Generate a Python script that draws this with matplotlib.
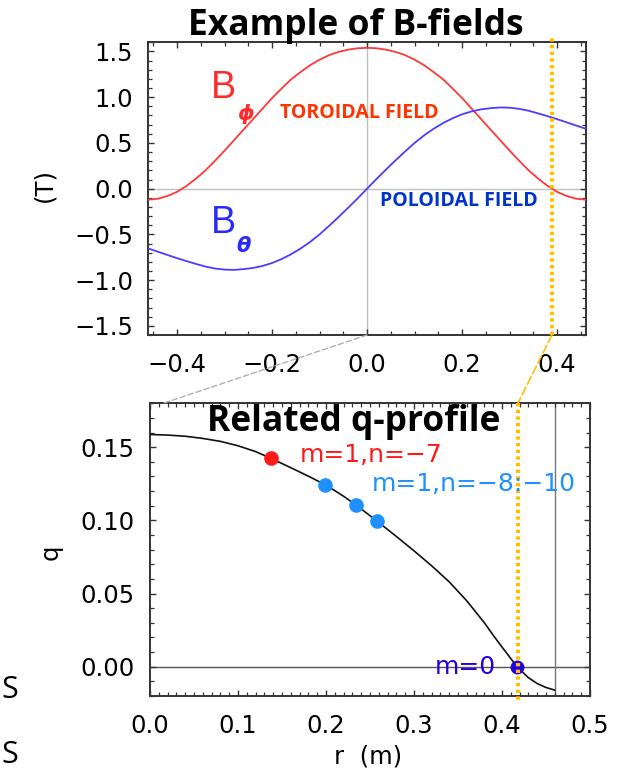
import matplotlib
matplotlib.use('Agg')
import matplotlib.pyplot as plt
from matplotlib.patches import ConnectionPatch
from matplotlib.ticker import MultipleLocator

# field profiles across the minor radius (T)
r_field = [-0.46, -0.44, -0.42, -0.40, -0.38, -0.36, -0.34, -0.32, -0.30, -0.28, -0.26, -0.24,
           -0.22, -0.20, -0.18, -0.16, -0.14, -0.12, -0.10, -0.08, -0.06, -0.04, -0.02, 0.0,
           0.02, 0.04, 0.06, 0.08, 0.10, 0.12, 0.14, 0.16, 0.18, 0.20, 0.22, 0.24,
           0.26, 0.28, 0.30, 0.32, 0.34, 0.36, 0.38, 0.40, 0.42, 0.44, 0.46]
b_phi = [-0.12, -0.11, -0.08, -0.035, 0.03, 0.11, 0.20, 0.305, 0.415, 0.53, 0.645, 0.76,
         0.875, 0.99, 1.095, 1.195, 1.275, 1.35, 1.41, 1.46, 1.495, 1.52, 1.535, 1.54,
         1.535, 1.52, 1.495, 1.46, 1.41, 1.35, 1.275, 1.195, 1.095, 0.99, 0.875, 0.76,
         0.645, 0.53, 0.415, 0.305, 0.20, 0.11, 0.03, -0.035, -0.08, -0.11, -0.12]
b_theta = [-0.655, -0.69, -0.725, -0.76, -0.792, -0.823, -0.852, -0.873, -0.885, -0.888, -0.88, -0.867,
           -0.845, -0.813, -0.77, -0.717, -0.655, -0.583, -0.50, -0.407, -0.31, -0.21, -0.107, 0.0,
           0.107, 0.21, 0.31, 0.407, 0.50, 0.583, 0.655, 0.717, 0.77, 0.813, 0.845, 0.867,
           0.88, 0.888, 0.885, 0.873, 0.852, 0.823, 0.792, 0.76, 0.725, 0.69, 0.655]

# safety factor profile
r_q = [0.0, 0.02, 0.04, 0.06, 0.08, 0.10, 0.12, 0.137, 0.16, 0.18, 0.20, 0.22, 0.234, 0.24,
       0.258, 0.28, 0.30, 0.32, 0.34, 0.36, 0.38, 0.39, 0.40, 0.417, 0.43, 0.44, 0.45, 0.46]
q = [0.1587, 0.1583, 0.1575, 0.156, 0.154, 0.151, 0.147, 0.1425, 0.136, 0.1302, 0.1241, 0.1165, 0.1105, 0.1078,
     0.0995, 0.089, 0.0792, 0.069, 0.058, 0.045, 0.030, 0.0215, 0.0135, 0.0, -0.0075, -0.0115, -0.0142, -0.016]

# resonant surfaces
r_n7, q_n7 = [0.137], [0.1425]
r_n8_10, q_n8_10 = [0.199, 0.234, 0.258], [0.1245, 0.1105, 0.0995]
r_m0, q_m0 = [0.417], [0.0]

r_reversal_top = 0.389
r_reversal_q = 0.418
r_wall = 0.46

TICK_FS = 17.5
SPINE_COL = '#333333'
GOLD = '#ffc000'


def style_axes(ax):
    for s in ax.spines.values():
        s.set_linewidth(1.4)
        s.set_color(SPINE_COL)
    ax.tick_params(which='both', direction='in', top=True, right=True,
                   colors=SPINE_COL, labelcolor='black', labelsize=TICK_FS)
    ax.tick_params(which='major', length=4.2, width=1.0, pad=13)
    ax.tick_params(axis='y', which='major', pad=11)
    ax.tick_params(which='minor', length=2.8, width=0.9)


fig = plt.figure(figsize=(6.26, 7.71), dpi=100)
ax1 = fig.add_axes([0.2372, 0.5655, 0.6984, 0.3796])
ax2 = fig.add_axes([0.2396, 0.0973, 0.7029, 0.3796])

# ---- top panel: B fields
ax1.axhline(0, color='#c0c0c0', lw=1.0, zorder=1)
ax1.axvline(0, color='#c0c0c0', lw=1.0, zorder=1)
ax1.plot(r_field, b_phi, color='#ff3838', lw=1.3, zorder=3)
ax1.plot(r_field, b_theta, color='#4b3cff', lw=1.3, zorder=3)
ax1.plot([r_reversal_top, r_reversal_top], [-1.6, 1.66], color=GOLD, lw=3.0,
         ls=(0, (0.8, 0.8)), clip_on=False, zorder=4)
ax1.set_xlim(-0.46, 0.46)
ax1.set_ylim(-1.6, 1.6)
ax1.xaxis.set_major_locator(MultipleLocator(0.2))
ax1.xaxis.set_minor_locator(MultipleLocator(0.05))
ax1.yaxis.set_major_locator(MultipleLocator(0.5))
ax1.yaxis.set_minor_locator(MultipleLocator(0.1))
style_axes(ax1)
ax1.set_ylabel('(T)', fontsize=TICK_FS, va='center')
ax1.yaxis.set_label_coords(-0.239, 0.512)

ax1.text(-0.328, 0.996, 'B', color='#ff2a2a', fontsize=27, family='Liberation Sans', va='baseline')
ax1.text(-0.274, 0.82, '\u03d5', color='#ff2a2a', fontsize=15, family='DejaVu Sans',
         fontweight='bold', fontstyle='italic', va='center')
ax1.text(-0.328, -0.49, 'B', color='#2a2aff', fontsize=27, family='Liberation Sans', va='baseline')
ax1.text(-0.276, -0.63, '\u03b8', color='#2a2aff', fontsize=15, family='DejaVu Sans',
         fontweight='bold', fontstyle='italic', va='center')
ax1.text(-0.1825, 0.827, 'TOROIDAL FIELD', color='#ff3300', fontsize=14,
         family='Open Sans', fontweight='bold', va='center')
ax1.text(0.028, -0.133, 'POLOIDAL FIELD', color='#0033cc', fontsize=14,
         family='Open Sans', fontweight='bold', va='center')

# ---- bottom panel: q profile
ax2.axhline(0, color='#555555', lw=1.0, zorder=1)
ax2.axvline(r_wall, color='#777777', lw=1.0, zorder=1)
ax2.plot(r_q, q, color='#111111', lw=1.2, zorder=3)
ax2.plot(r_n7, q_n7, 'o', color='#ff1a1a', ms=9.5, zorder=5)
ax2.plot(r_n8_10, q_n8_10, 'o', color='#1e90ff', ms=9.5, zorder=5)
ax2.plot(r_m0, q_m0, 'o', color='#2200dd', ms=9, zorder=5)
ax2.plot([r_reversal_q, r_reversal_q], [0.18, -0.0225], color=GOLD, lw=3.0,
         ls=(0, (0.8, 0.8)), clip_on=False, zorder=6)
ax2.set_xlim(0, 0.5)
ax2.set_ylim(-0.02, 0.18)
ax2.xaxis.set_major_locator(MultipleLocator(0.1))
ax2.xaxis.set_minor_locator(MultipleLocator(0.01))
ax2.yaxis.set_major_locator(MultipleLocator(0.05))
ax2.yaxis.set_minor_locator(MultipleLocator(0.01))
style_axes(ax2)
ax2.set_ylabel('q', fontsize=TICK_FS, va='center')
ax2.yaxis.set_label_coords(-0.225, 0.492)
ax2.set_xlabel('r  (m)', fontsize=TICK_FS, va='center')
ax2.xaxis.set_label_coords(0.495, -0.208)

ax2.text(0.170, 0.145, 'm=1,n=\u22127', color='#ff1a1a', fontsize=18, va='center')
ax2.text(0.252, 0.1246, 'm=1,n=\u22128:\u221210', color='#1e90ff', fontsize=18, va='center',
         clip_on=False, zorder=8)
ax2.text(0.393, 0.0, 'm=0', color='#2200dd', fontsize=18, va='center', ha='right')
ax2.text(0.232, 0.1614, 'Related q-profile', fontsize=25.5, family='Open Sans', fontweight='bold',
         ha='center', va='baseline', zorder=7)

# links between the panels
for xa, xb, col, ls, lw in [(0.0, 0.015, '#b0b0b0', (0, (4, 2)), 1.0),
                            (r_reversal_top, r_reversal_q, GOLD, (0, (5, 2)), 1.2)]:
    con = ConnectionPatch(xyA=(xa, -1.6), coordsA=ax1.transData,
                          xyB=(xb, 0.18), coordsB=ax2.transData,
                          color=col, ls=ls, lw=lw)
    fig.add_artist(con)

fig.text(0.569, 1 - 35 / 771, 'Example of B-fields', fontsize=25.5, family='Open Sans',
         fontweight='bold', ha='center', va='baseline')
fig.text(0.002, 1 - 698 / 771, 'S', fontsize=22, family='Open Sans', va='baseline')
fig.text(0.002, 1 - 763 / 771, 'S', fontsize=22, family='Open Sans', va='baseline')

fig.savefig('out.png', dpi=100)
